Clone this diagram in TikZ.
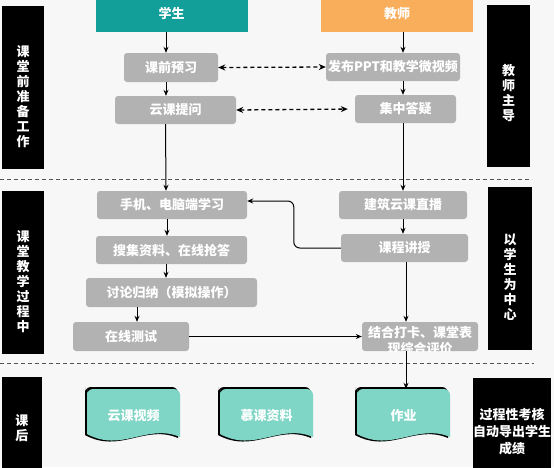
\documentclass[tikz,border=0pt]{standalone}
\usepackage{fontspec}
\setmainfont{Noto Sans CJK SC}
\usetikzlibrary{arrows.meta}
\definecolor{bg}{HTML}{F7F7F7}
\definecolor{boxgray}{HTML}{B2B2B2}
\definecolor{headteal}{HTML}{129E99}
\definecolor{headorange}{HTML}{F9AE5C}
\definecolor{docteal}{HTML}{7FD6C6}
\definecolor{sepgray}{HTML}{555555}
\tikzset{
  gbox/.style={fill=boxgray, rounded corners=3pt, text=white, inner sep=0pt,
    font=\bfseries\fontsize{13}{15}\selectfont},
  head/.style={inner sep=0pt, text=white, font=\bfseries\fontsize{13}{15}\selectfont},
  bar/.style={fill=black, inner sep=0pt},
  bartext/.style={text=white, align=center, inner sep=0pt,
    font=\bfseries\fontsize{13}{15}\selectfont},
  arr/.style={draw=black, line width=1pt, -{Stealth[length=6pt,width=5pt]}},
  darr/.style={draw=black, line width=1.3pt, dash pattern=on 4pt off 3pt,
    {Stealth[length=7pt,width=6pt]}-{Stealth[length=7pt,width=6pt]}},
  sepline/.style={draw=sepgray, line width=1pt, dash pattern=on 4pt off 3pt},
  doctext/.style={text=white, inner sep=0pt, font=\bfseries\fontsize{13}{15}\selectfont},
}
\newcommand{\docshp}[3]{% left, top, fillcolor
  \path[#3] (#1,#2+6) -- (#1,#2+45)
    .. controls (#1+35,#2+64) and (#1+60,#2+34) .. (#1+93,#2+48)
    -- (#1+93,#2+6) [rounded corners=6pt] -- (#1+93,#2) -- (#1,#2) -- cycle;
}
\begin{document}
\begin{tikzpicture}[x=1pt,y=-1pt]
\useasboundingbox[fill=bg] (0,0) rectangle (554,467);
\begin{scope}
\clip (0,0) rectangle (554,467);
% headers
\node[head, fill=headteal, minimum width=152, minimum height=37] (xs) at (171.5,13.5) {学生};
\node[head, fill=headorange, minimum width=152, minimum height=37] (js) at (397,13.5) {教师};
% bars
\node[bar, minimum width=42, minimum height=163] (b1) at (23,87.5) {};
\node[bartext] (t1) at (23,97) {课\\堂\\前\\准\\备\\工\\作};
\node[bar, minimum width=43, minimum height=162] (b2) at (508.5,86) {};
\node[bartext] (t2) at (508.5,93) {教\\师\\主\\导};
\node[bar, minimum width=42, minimum height=163] (b3) at (23,272.5) {};
\node[bartext] (t3) at (23,282) {课\\堂\\教\\学\\过\\程\\中};
\node[bar, minimum width=44, minimum height=163] (b4) at (510,268.5) {};
\node[bartext] (t4) at (510,277) {以\\学\\生\\为\\中\\心};
\node[bar, minimum width=40, minimum height=100] (b5) at (22,427) {};
\node[bartext] (t5) at (22,428) {课\\后};
\node[bar, minimum width=78, minimum height=110] (b6) at (512,433) {};
\node[bartext, font=\bfseries\fontsize{13}{17}\selectfont] (t6) at (512,432) {过程性考核\\自动导出学生\\成绩};
% separators
\draw[sepline] (0,179) -- (532,179);
\draw[sepline] (0,363) -- (534,363);
% student column
\node[gbox, minimum width=94, minimum height=29] (kq) at (171,67.5) {课前预习};
\node[gbox, minimum width=121, minimum height=28] (yk) at (175.5,110) {云课提问};
\node[gbox, minimum width=150, minimum height=28] (sj) at (172,205) {手机、电脑端学习};
\node[gbox, minimum width=151, minimum height=28] (sz) at (171.5,250) {搜集资料、在线抢答};
\node[gbox, minimum width=171, minimum height=29] (tl) at (171.5,292.5) {讨论归纳（模拟操作）};
\node[gbox, minimum width=116, minimum height=29] (zx) at (131,336.5) {在线测试};
% teacher column
\node[gbox, minimum width=134, minimum height=28] (fb) at (393,67) {发布PPT和教学微视频};
\node[gbox, minimum width=101, minimum height=28] (jd) at (405.5,109) {集中答疑};
\node[gbox, minimum width=128, minimum height=28] (jz) at (403,205) {建筑云课直播};
\node[gbox, minimum width=127, minimum height=28] (kc) at (404.5,248) {课程讲授};
\node[gbox, minimum width=116, minimum height=29] (jh) at (420,336.5) {};
\begin{scope}
\clip (362,322) rectangle (478,351);
\node[doctext, align=center, font=\bfseries\fontsize{13}{16}\selectfont] (jht) at (420,341) {结合打卡、课堂表\\现综合评价};
\end{scope}
% documents
\foreach \L in {87,220,357}{
  \docshp{\L-2}{389-2}{fill=black}
  \docshp{\L-2}{389+1}{fill=black}
  \docshp{\L}{389}{fill=docteal}
}
\node[doctext, minimum width=93, minimum height=54] (d1) at (133.5,416) {云课视频};
\node[doctext, minimum width=93, minimum height=54] (d2) at (266.5,416) {慕课资料};
\node[doctext, minimum width=93, minimum height=54] (d3) at (403.5,416) {作业};
% arrows
\draw[arr] ([xshift=-5.5pt]xs.south) -- ([xshift=-5pt]kq.north);
\draw[arr] ([xshift=-5pt]kq.south) -- ([xshift=-9.5pt]yk.north);
\draw[arr] ([xshift=-10pt]yk.south) -- ([xshift=-6pt]sj.north);
\draw[arr] ([xshift=-5pt]sj.south) -- ([xshift=-4.5pt]sz.north);
\draw[arr] ([xshift=-5.5pt]sz.south) -- ([xshift=-5.5pt]tl.north);
\draw[arr] ([xshift=-34.5pt]tl.south) -- ([xshift=6pt]zx.north);
\draw[arr] ([xshift=6pt]js.south) -- ([xshift=10pt]fb.north);
\draw[arr] ([xshift=10pt]fb.south) -- ([xshift=-2.5pt]jd.north);
\draw[arr] ([xshift=-2.5pt]jd.south) -- (jz.north);
\draw[arr] (jz.south) -- ([xshift=-1.5pt]kc.north);
\draw[arr] ([xshift=1.5pt]kc.south) -- ([xshift=-14pt]jh.north);
\draw[arr] ([xshift=-14pt]jh.south) -- ([xshift=2.5pt]d3.north);
\draw[arr, rounded corners=6pt] (kc.west) -- ++(-47,0) |- ([yshift=4pt]sj.east);
\draw[arr] (zx.east) -- (jh.west);
\draw[darr] (kq.east) -- (fb.west);
\draw[darr, shorten >=7pt] (yk.east) -- (jd.west);
\end{scope}
\end{tikzpicture}
\end{document}
